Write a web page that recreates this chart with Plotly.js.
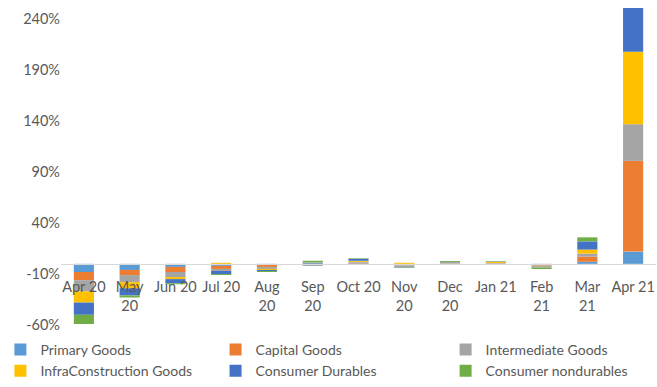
<!DOCTYPE html>
<html>
<head>
<meta charset="utf-8">
<script src="https://cdn.plot.ly/plotly-3.0.1.min.js"></script>
<style>html,body{margin:0;padding:0;background:#fff;}#chart{width:657px;height:387px;}</style>
</head>
<body>
<div id="chart"></div>
<script>
const categories = ["Apr 20","May 20","Jun 20","Jul 20","Aug 20","Sep 20","Oct 20","Nov 20","Dec 20","Jan 21","Feb 21","Mar 21","Apr 21"];
const tickLabels = ["Apr 20","May<br>20","Jun 20","Jul 20","Aug<br>20","Sep<br>20","Oct 20","Nov<br>20","Dec<br>20","Jan 21","Feb<br>21","Mar<br>21","Apr 21"];
const yTickValues = [-60,-10,40,90,140,190,240];
const yTickLabels = ["-60%","-10%","40%","90%","140%","190%","240%"];

const primaryGoods      = [-8, -6, -3, -2, -1,  1,   0.5, -1,   0.3, 0.3, -1.5, 2,  12];
const capitalGoods      = [-8, -5, -5, -3, -2, -1,   0.5, -0.5, 0.3, 0.3, -0.5, 5,  89];
const intermediateGoods = [-11,-7, -5, -2, -2,  0.5, 1,   -1.5, 0.3, 0.3, -1,   3,  36];
const infraGoods        = [-11,-6, -2,  1, -1, -0.5, 1,   1,    0.3, 1,   -0.3, 4,  71];
const consumerDurables  = [-12,-7, -4, -3, -1, -0.5, 2,   -0.5, 0.5, 0.3, -0.3, 8,  43];
const consumerNondur    = [-9, -2, -1, -1, -1,  1.5, 0.5, -0.5, 1,   0.5, -1.5, 4,  0];

const seriesNames = ["Primary Goods","Capital Goods","Intermediate Goods","InfraConstruction Goods","Consumer Durables","Consumer nondurables"];
const seriesValues = [primaryGoods, capitalGoods, intermediateGoods, infraGoods, consumerDurables, consumerNondur];
const colors = ["#5B9BD5","#ED7D31","#A5A5A5","#FFC000","#4472C4","#70AD47"];
const legendOf = ["legend","legend2","legend3","legend","legend2","legend3"];

const traces = seriesNames.map((n,i)=>({
  type:'bar', name:n, x:categories, y:seriesValues[i],
  marker:{color:colors[i]}, legend:legendOf[i]
}));

const yMin = -60, yMax = 251;
const legendBase = {
  orientation:'v', y:-0.025, yanchor:'top', xanchor:'left',
  font:{size:14, color:'#595959'}, traceorder:'normal', bgcolor:'rgba(0,0,0,0)',
  itemwidth:30, tracegroupgap:0
};
const layout = {
  width:657, height:387,
  margin:{l:60, r:1, t:8, b:61},
  paper_bgcolor:'#fff', plot_bgcolor:'#fff',
  barmode:'relative', bargap:0.56,
  font:{family:'Lato, "Open Sans", sans-serif', size:14, color:'#595959'},
  xaxis:{
    type:'category', tickvals:categories, ticktext:tickLabels,
    anchor:'free', position:(0-yMin)/(yMax-yMin),
    showline:true, linecolor:'#D9D9D9', linewidth:1,
    ticks:'', showgrid:false, zeroline:false, ticklabelstandoff:10,
    tickfont:{size:14.5, color:'#595959'}
  },
  yaxis:{
    range:[yMin,yMax], tickvals:yTickValues, ticktext:yTickLabels,
    showgrid:false, zeroline:false, showline:false, ticks:'',
    tickfont:{size:14.5, color:'#595959'}
  },
  showlegend:true,
  legend: Object.assign({}, legendBase, {x:-0.1}),
  legend2: Object.assign({}, legendBase, {x:0.261}),
  legend3: Object.assign({}, legendBase, {x:0.647})
};
Plotly.newPlot('chart', traces, layout, {staticPlot:true, displayModeBar:false});
</script>
</body>
</html>
